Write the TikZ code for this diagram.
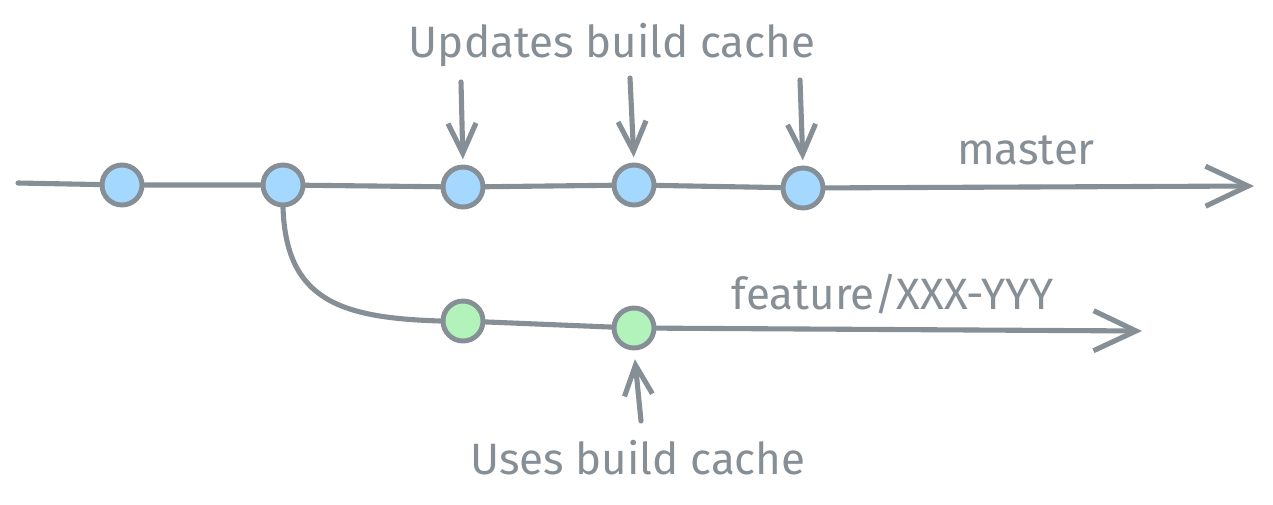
\documentclass[tikz,border=0pt]{standalone}
\usepackage{fontspec}
\setmainfont{Fira Sans}
\usetikzlibrary{arrows.meta}

\definecolor{edgegray}{HTML}{868E96}
\definecolor{commitblue}{HTML}{A5D8FF}
\definecolor{commitgreen}{HTML}{B2F2BB}

\tikzset{
    commit/.style={circle, minimum size=0.8cm, inner sep=0pt, draw=edgegray, line width=2.8pt},
    mastercommit/.style={commit, fill=commitblue},
    featurecommit/.style={commit, fill=commitgreen},
    branchline/.style={draw=edgegray, line width=2.9pt, line cap=round},
    bigtip/.style={-{Straight Barb[length=0.85cm, width=0.8cm, line width=2.9pt]}},
    smalltip/.style={-{Straight Barb[length=0.6cm, width=0.56cm, line width=2.9pt]}},
    labeltext/.style={text=edgegray, font=\fontsize{25}{29}\selectfont, inner sep=0pt}
}

\begin{document}
\begin{tikzpicture}[x=0.02cm, y=-0.02cm]
    \useasboundingbox (0,0) rectangle (1273,504);

    % draw commits
    \node[mastercommit] (m1) at (122,185) {};
    \node[mastercommit] (m2) at (283,185) {};
    \node[mastercommit] (m3) at (463,187) {};
    \node[mastercommit] (m4) at (634,185) {};
    \node[mastercommit] (m5) at (803,188) {};
    \node[featurecommit] (f1) at (463,321) {};
    \node[featurecommit] (f2) at (634,328) {};

    % draw branch lines
    \coordinate (mstart) at (18,183);
    \coordinate (mend) at (1254,186);
    \coordinate (fend) at (1142,331);
    \draw[branchline] (mstart) -- (m1) -- (m2) -- (m3) -- (m4) -- (m5);
    \draw[branchline, bigtip] (m5) -- (mend);
    \draw[branchline] (m2.south) .. controls (286,300) and (340,318) .. (f1.west);
    \draw[branchline] (f1) -- (f2);
    \draw[branchline, bigtip] (f2) -- (fend);

    % draw labels
    \node[labeltext] (updates) at (612,45) {Updates build cache};
    \node[labeltext] (master) at (1026,150) {master};
    \node[labeltext] (feature) at (893,294) {feature/XXX-YYY};
    \node[labeltext] (uses) at (638,458) {Uses build cache};

    % draw cache arrows
    \coordinate (a3) at (461,82);
    \coordinate (a4) at (630,78);
    \coordinate (a5) at (800,80);
    \coordinate (a6) at (641,421);
    \draw[branchline, smalltip, shorten >=3pt] (a3) -- (m3.north);
    \draw[branchline, smalltip, shorten >=3pt] (a4) -- (m4.north);
    \draw[branchline, smalltip, shorten >=3pt] (a5) -- (m5.north);
    \draw[branchline, smalltip, shorten >=5pt] (a6) -- (f2.south);
\end{tikzpicture}
\end{document}
